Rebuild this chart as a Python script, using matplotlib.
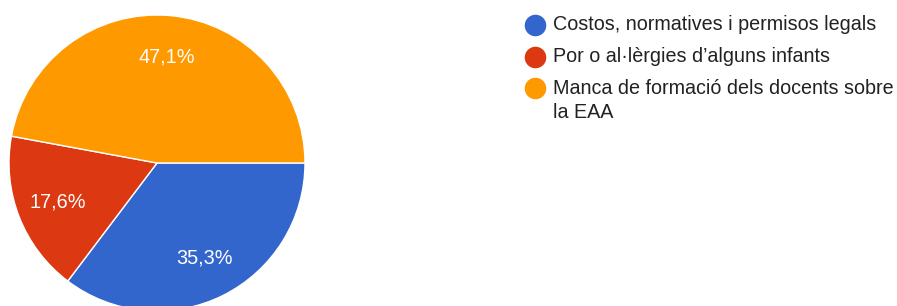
import matplotlib.pyplot as plt
from matplotlib.lines import Line2D

plt.rcParams['font.family'] = ['Liberation Sans', 'DejaVu Sans']

labels = [['Costos, normatives i permisos legals'],
          ['Por o al·lèrgies d’alguns infants'],
          ['Manca de formació dels docents sobre', 'la EAA']]
values = [35.3, 17.6, 47.1]
colors = ['#3366CC', '#DC3912', '#FF9900']

W, H = 897, 306
fig = plt.figure(figsize=(W / 100, H / 100), dpi=100)

cx, cy, r = 157, 143, 148
ax = fig.add_axes([(cx - r) / W, (cy - r) / H, 2 * r / W, 2 * r / H])
wedges, texts, autotexts = ax.pie(
    values, colors=colors, startangle=0, counterclock=False, radius=1,
    autopct=lambda p: f'{p:.1f}%'.replace('.', ','), pctdistance=0.72,
    wedgeprops=dict(edgecolor='white', linewidth=1),
    textprops=dict(color='white', fontsize=14.3))
ax.set_xlim(-1, 1)
ax.set_ylim(-1, 1)
ax.set_aspect('equal')
ax.axis('off')

# legend drawn by hand so the wrapped item lines up like the original
leg_x, text_x, y0, row_gap, line_gap = 535, 553, 25, 31.5, 25
y = y0
for lines, c in zip(labels, colors):
    fig.add_artist(Line2D([leg_x / W], [1 - y / H], marker='o', linestyle='none',
                          markersize=14.5, markerfacecolor=c, markeredgecolor=c,
                          transform=fig.transFigure))
    for k, line in enumerate(lines):
        fig.text(text_x / W, 1 - (y + k * line_gap) / H, line, fontsize=14.2,
                 color='#222222', va='center', ha='left')
    y += row_gap

fig.savefig('out.png', dpi=100)
